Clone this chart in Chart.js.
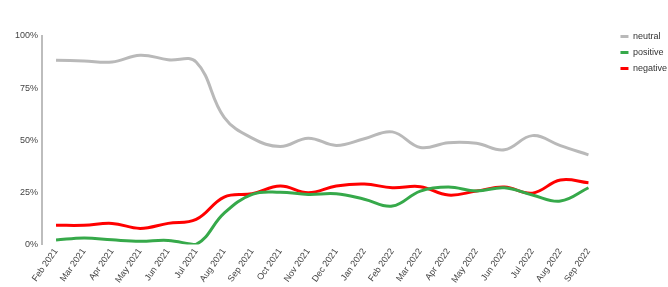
<!DOCTYPE html>
<html>
<head>
<meta charset="utf-8">
<script src="https://cdn.jsdelivr.net/npm/chart.js@4"></script>
<style>
  html, body { margin: 0; padding: 0; background: #fff; }
  #wrap { width: 668px; height: 287px; }
</style>
</head>
<body>
<div id="wrap"><canvas id="mychart"></canvas></div>
<script>
'use strict'

// months on the x axis
const months = ['Feb 2021', 'Mar 2021', 'Apr 2021', 'May 2021', 'Jun 2021', 'Jul 2021', 'Aug 2021', 'Sep 2021', 'Oct 2021', 'Nov 2021', 'Dec 2021',
  'Jan 2022', 'Feb 2022', 'Mar 2022', 'Apr 2022', 'May 2022', 'Jun 2022', 'Jul 2022', 'Aug 2022', 'Sep 2022'];

// share of mentions, in %
const neutral = [88.4, 88, 87.5, 90.8, 88.6, 87.5, 61, 51, 47, 51, 47.5, 50.7, 54, 46.5, 48.8, 48.5, 45.4, 52.2, 47.4, 43];
const positive = [2.1, 3.1, 2.2, 1.5, 1.9, 0, 15, 24, 25, 24, 24.3, 21.7, 18.4, 25.6, 27.5, 25.6, 27.2, 23.7, 20.8, 27.2];
const negative = [9.2, 9.2, 10.1, 7.7, 10.1, 12, 22.7, 24.3, 28, 24.8, 28, 29, 27.2, 27.7, 23.7, 25.6, 27.5, 24.6, 30.9, 29.6];

const yTicks = [0, 25, 50, 75, 100];

const FONT = 'Liberation Sans, Arial, sans-serif';
const ctx = document.getElementById('mychart');

const makeSet = (label, data, color) => ({
  label: label,
  data: data,
  borderColor: color,
  backgroundColor: color,
  borderWidth: 3,
  pointRadius: 0,
  tension: 0.4,
  fill: false,
});

// legend sits a bit higher and further right than Chart.js puts it
const moveLegend = {
  id: 'moveLegend',
  afterLayout(chart) {
    const lg = chart.legend;
    lg.top -= 11; lg.bottom -= 11;
    lg.left += 11; lg.right += 11;
  },
};

new Chart(ctx, {
  type: 'line',
  data: {
    labels: months,
    datasets: [
      makeSet('neutral', neutral, '#b9b9b9'),
      makeSet('positive', positive, '#36a94a'),
      makeSet('negative', negative, '#ff0000'),
    ],
  },
  plugins: [moveLegend],
  options: {
    responsive: true,
    maintainAspectRatio: false,
    animation: false,
    layout: { padding: { top: 36, left: 11, right: 2, bottom: 0 } },
    plugins: {
      tooltip: { enabled: false },
      legend: {
        position: 'right',
        align: 'start',
        labels: {
          boxWidth: 8,
          boxHeight: 0,
          padding: 7,
          color: '#333',
          font: { family: FONT, size: 9 },
        },
      },
    },
    scales: {
      y: {
        min: 0,
        max: 100,
        afterBuildTicks: (axis) => { axis.ticks = yTicks.map(v => ({ value: v })); },
        grid: { display: false, drawTicks: false },
        border: { display: true, color: '#bdbdbd', width: 2 },
        ticks: {
          color: '#444',
          padding: 4,
          font: { family: FONT, size: 9 },
          callback: (v) => v + '%',
        },
      },
      x: {
        offset: true,
        grid: { display: false, drawTicks: false },
        border: { display: false },
        ticks: {
          color: '#444',
          padding: 2,
          minRotation: 55,
          maxRotation: 55,
          autoSkip: false,
          font: { family: FONT, size: 9 },
        },
      },
    },
  },
});
</script>
</body>
</html>
